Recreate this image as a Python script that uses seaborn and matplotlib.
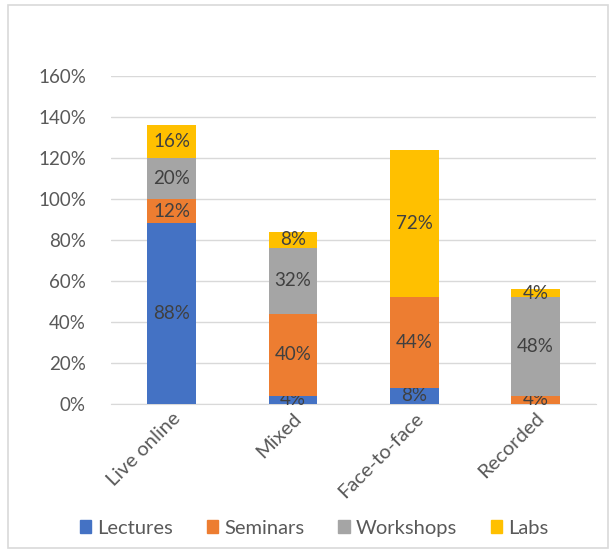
import pandas as pd
import matplotlib.pyplot as plt
import matplotlib.patches as mpatches
import seaborn as sns

categories = ["Live online", "Mixed", "Face-to-face", "Recorded"]
lectures = [88, 4, 8, 0]
seminars = [12, 40, 44, 4]
workshops = [20, 32, 0, 48]
labs = [16, 8, 72, 4]

series = {"Lectures": lectures, "Seminars": seminars,
          "Workshops": workshops, "Labs": labs}
colors = ["#4472C4", "#ED7D31", "#A5A5A5", "#FFC000"]

sns.set_style("white")
plt.rcParams['font.family'] = ['Lato', 'DejaVu Sans']
text_col = "#595959"

fig = plt.figure(figsize=(6.16, 5.52), dpi=100)
ax = fig.add_axes([0.180, 0.268, 0.788, 0.595])

bottom = [0] * len(categories)
for (name, vals), col in zip(series.items(), colors):
    df = pd.DataFrame({"cat": categories, "val": vals})
    sns.barplot(data=df, x="cat", y="val", color=col, bottom=bottom,
                width=0.4, ax=ax, label=name, saturation=1, zorder=3,
                linewidth=0)
    cont = ax.containers[-1]
    labels = [f"{v}%" if v > 0 else "" for v in vals]
    ax.bar_label(cont, labels=labels, label_type="center",
                 fontsize=13.5, color="#404040")
    bottom = [b + v for b, v in zip(bottom, vals)]

ax.set_ylim(0, 160)
ax.set_yticks(range(0, 161, 20))
ax.set_yticklabels([f"{t}%" for t in range(0, 161, 20)])
ax.yaxis.grid(True, color="#D9D9D9", linewidth=1, zorder=0)
ax.set_axisbelow(True)
for s in ["left", "right", "top"]:
    ax.spines[s].set_visible(False)
ax.spines["bottom"].set_color("#D9D9D9")
ax.set_xlabel("")
ax.set_ylabel("")
ax.tick_params(axis="y", length=0, pad=18, labelsize=13.5, labelcolor=text_col)
ax.tick_params(axis="x", length=0, pad=4, labelsize=14.5, labelcolor=text_col)
plt.setp(ax.get_xticklabels(), rotation=45, ha="right", rotation_mode="anchor")
if ax.legend_:
    ax.legend_.remove()

handles = [mpatches.Patch(color=c, label=n) for n, c in zip(series.keys(), colors)]
fig.legend(handles=handles, loc="lower center", bbox_to_anchor=(0.51, -0.005),
           ncol=4, frameon=False, fontsize=14.5, labelcolor=text_col,
           handlelength=0.55, handleheight=0.55, handletextpad=0.3, columnspacing=1.7)

fig.patches.append(mpatches.Rectangle((0.013, 0.008), 0.974, 0.983, fill=False,
                                      edgecolor="#D9D9D9", linewidth=1.2,
                                      transform=fig.transFigure, figure=fig))

fig.savefig("out.png", dpi=100)
